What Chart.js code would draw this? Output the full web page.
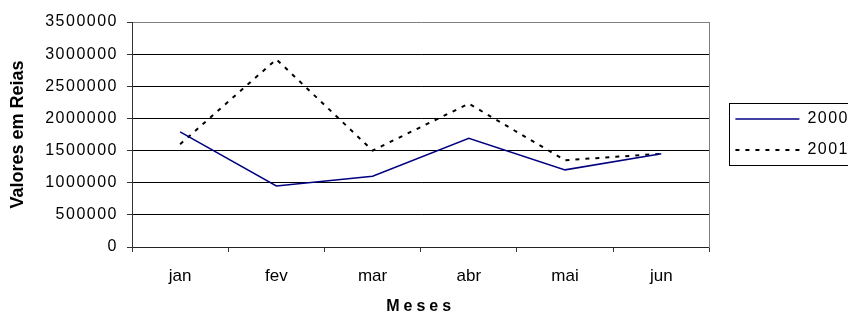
<!DOCTYPE html>
<html>
<head>
<meta charset="utf-8">
<script src="https://cdn.jsdelivr.net/npm/chart.js@4"></script>
<style>
  html, body { margin: 0; padding: 0; background: #fff; overflow: hidden; }
</style>
</head>
<body>
<canvas id="chart" width="853" height="313"></canvas>
<script>
const meses = ['jan', 'fev', 'mar', 'abr', 'mai', 'jun']
const valores2000 = [1790000, 950000, 1100000, 1690000, 1200000, 1450000]
const valores2001 = [1600000, 2920000, 1500000, 2230000, 1350000, 1450000]
const yMin = 0
const yMax = 3500000
const yStep = 500000

const font = 'Liberation Sans, Arial, sans-serif'

// wraps a draw method so its text gets extra letter spacing
const withSpacing = (obj, method, px) => {
  if (!obj || obj['_sp_' + method]) return
  const orig = obj[method]
  obj[method] = function (...args) {
    const c = this.ctx
    c.save()
    c.letterSpacing = px
    orig.apply(this, args)
    c.restore()
  }
  obj['_sp_' + method] = true
}

const spacing = {
  id: 'spacing',
  beforeDraw(chart) {
    withSpacing(chart.scales.y, 'drawLabels', '1.5px')
    withSpacing(chart.scales.x, 'drawTitle', '4px')
    withSpacing(chart.legend, 'draw', '1.5px')
  }
}

const legendBox = {
  id: 'legendBox',
  afterDraw(chart) {
    const hb = chart.legend.legendHitBoxes
    if (!hb || !hb.length) return
    const last = hb[hb.length - 1]
    const ctx = chart.ctx
    ctx.save()
    ctx.strokeStyle = '#000'
    ctx.lineWidth = 1
    const x = Math.round(hb[0].left - 6) + 0.5
    const y = Math.round(hb[0].top - 8) + 0.5
    const b = Math.round(last.top + last.height + 7) + 0.5
    ctx.strokeRect(x, y, chart.width + 10 - x, b - y)
    ctx.restore()
  }
}

new Chart(document.getElementById('chart'), {
  type: 'line',
  data: {
    labels: meses,
    datasets: [
      {
        label: '2000',
        data: valores2000,
        borderColor: '#000080',
        borderWidth: 1.5,
        pointRadius: 0,
        tension: 0,
        fill: false
      },
      {
        label: '2001',
        data: valores2001,
        borderColor: '#000',
        borderWidth: 2,
        borderDash: [4, 6],
        pointRadius: 0,
        tension: 0,
        fill: false
      }
    ]
  },
  options: {
    responsive: false,
    animation: false,
    layout: { padding: { top: 22, left: 0, right: 0, bottom: 0 } },
    plugins: {
      tooltip: { enabled: false },
      legend: {
        position: 'right',
        align: 'center',
        fullSize: false,
        labels: {
          usePointStyle: true,
          pointStyle: 'line',
          pointStyleWidth: 64,
          padding: 15,
          color: '#000',
          font: { family: font, size: 16 },
          generateLabels: chart => {
            const items = Chart.defaults.plugins.legend.labels.generateLabels(chart)
            return items.map(it => {
              const ds = chart.data.datasets[it.datasetIndex]
              it.lineDash = ds.borderDash || []
              it.lineWidth = ds.borderWidth
              it.strokeStyle = ds.borderColor
              return it
            })
          }
        }
      }
    },
    scales: {
      x: {
        type: 'category',
        offset: true,
        afterFit: s => { s.height = 66 },
        grid: {
          display: true,
          offset: true,
          drawOnChartArea: false,
          drawTicks: true,
          tickLength: 5,
          tickColor: '#333',
          color: '#333'
        },
        border: { display: true, color: '#222', width: 1 },
        ticks: {
          color: '#000',
          padding: 14,
          autoSkip: false,
          maxRotation: 0,
          font: { family: font, size: 17 }
        },
        title: {
          display: true,
          text: 'Meses',
          color: '#000',
          padding: { top: 0, bottom: 0 },
          font: { family: font, size: 16, weight: 'bold', lineHeight: 0.8 }
        }
      },
      y: {
        type: 'linear',
        position: 'left',
        min: yMin,
        max: yMax,
        afterFit: s => { s.width = 132 },
        grid: {
          color: c => (c.tick && c.tick.value === yMax ? '#808080' : '#000'),
          lineWidth: 1,
          drawTicks: true,
          tickLength: 5,
          tickColor: '#333'
        },
        border: { display: true, color: '#333', width: 1 },
        ticks: {
          stepSize: yStep,
          color: '#000',
          padding: 9,
          font: { family: font, size: 16 },
          callback: v => String(v)
        },
        title: {
          display: true,
          text: 'Valores em Reias',
          color: '#000',
          padding: { top: 7, bottom: 0 },
          font: { family: font, size: 18, weight: 'bold' }
        }
      },
      y2: {
        type: 'linear',
        position: 'right',
        afterFit: s => { s.width = 11 },
        grid: { display: false },
        ticks: { display: false },
        border: { display: true, color: '#808080', width: 1 }
      }
    }
  },
  plugins: [spacing, legendBox]
})
</script>
</body>
</html>
